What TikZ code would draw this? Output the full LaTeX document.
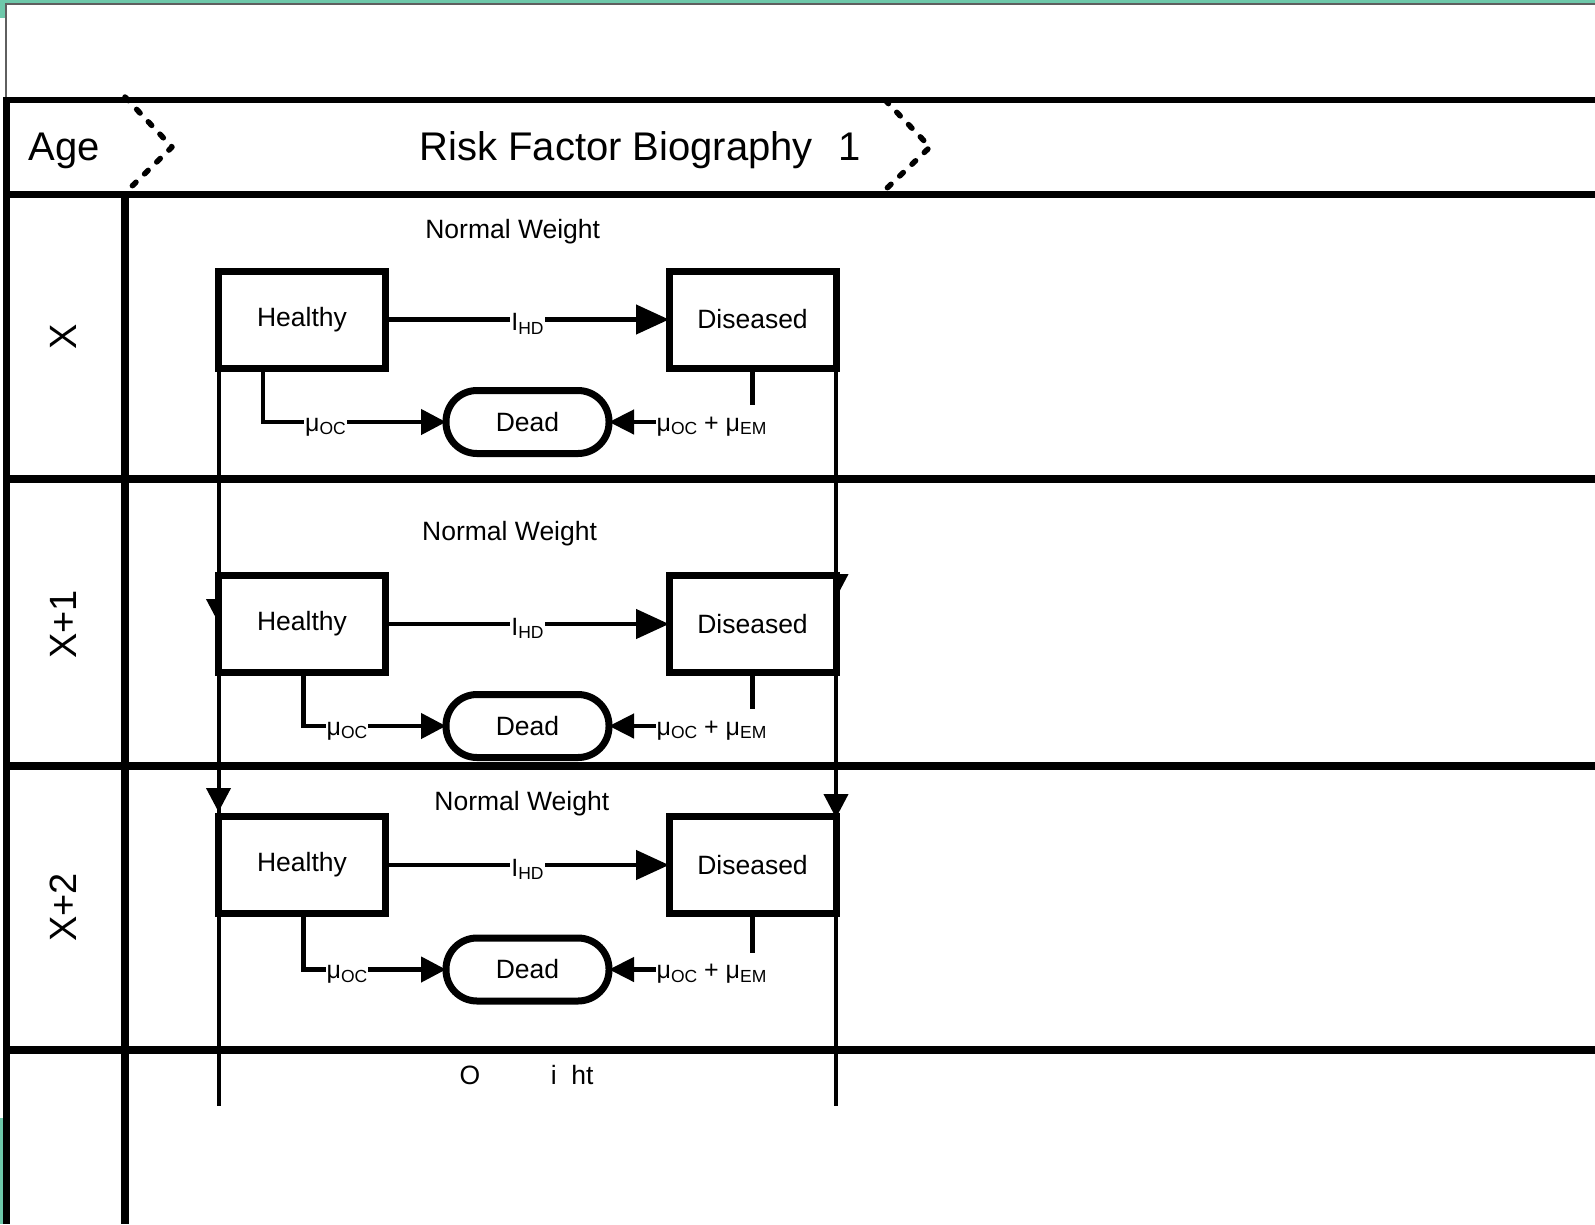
\documentclass[tikz,border=0pt]{standalone}
\usepackage{fontspec}
\setmainfont{Liberation Sans}
\usetikzlibrary{arrows.meta,backgrounds}

\definecolor{edgeteal}{RGB}{110,200,170}
\definecolor{edgegray}{RGB}{95,95,95}

% lowered small letters for the rate names
\newcommand\lowsub[1]{\raisebox{-3.5pt}{\fontsize{17.5}{20}\selectfont #1}}

\tikzset{
  state/.style={draw, line width=7pt, fill=white, minimum width=167pt, minimum height=97pt,
    inner sep=0pt, outer sep=0pt, font=\fontsize{26.5}{30}\selectfont},
  dead/.style={draw, line width=7pt, fill=white, rounded corners=31pt, minimum width=163pt,
    minimum height=63pt, inner sep=0pt, outer sep=0pt, font=\fontsize{26.5}{30}\selectfont},
  flow/.style={line width=4.5pt},
  rate/.style={fill=white, inner xsep=1pt, inner ysep=1pt, font=\fontsize{25}{28}\selectfont},
  ageline/.style={line width=4pt},
  laneline/.style={line width=8pt},
  stage/.style={line width=5.5pt, line cap=round, line join=round, dash pattern=on 5pt off 12pt},
  head/.style={font=\fontsize{40}{44}\selectfont},
  plain/.style={font=\fontsize{26.5}{30}\selectfont}
}

\begin{document}
\begin{tikzpicture}[x=1pt, y=-1pt, >={Triangle[length=24pt,width=24pt]}]
  \useasboundingbox (0,0) rectangle (1595,1224);

  % window edge
  \fill[edgeteal] (0,0) rectangle (1595,3.2);
  \fill[edgeteal] (0,0) rectangle (5,18);
  \fill[edgeteal] (0,1118) rectangle (2.8,1224);
  \draw[edgegray, line width=1.6pt] (5.8,98) -- (5.8,4.2) -- (1595,4.2);

  % one year per row: healthy, diseased, dead
  \foreach \r/\yb/\yd/\nx/\ny/\dx/\mx in {1/319.5/422/512.7/238.5/263/325.5,
                                          2/624/726/509.6/540/303.6/347,
                                          3/865/969.5/521.8/810/303.6/347} {
    \node[state] (H\r) at (302,\yb) {Healthy};
    \node[state] (D\r) at (752.5,\yb) {Diseased};
    \node[dead] (X\r) at (527.5,\yd) {Dead};
    \node[plain, anchor=base] (nw\r) at (\nx,\ny) {Normal Weight};

    \draw[flow, -{Triangle[length=33pt,width=29pt]}] (H\r) -- (D\r);
    \node[rate, anchor=base] (ihd\r) at (527.5,\yb+11) {I\lowsub{HD}};

    \draw[flow, -{Triangle[length=25pt,width=25pt]}] (H\r.south -| \dx,0) |- (X\r.west);
    \node[rate, anchor=base] (moc\r) at (\mx,\yd+9) {μ\lowsub{OC}};

    \draw[flow, -{Triangle[length=25pt,width=24pt]}] (D\r.south) |- (X\r.east);
    \node[rate, anchor=base, text height=26pt, text depth=9pt, inner ysep=0pt]
      (mem\r) at (711.5,\yd+9) {μ\lowsub{OC} + μ\lowsub{EM}};
  }

  % ageing lines run behind the boxes
  \begin{scope}[on background layer]
    \coordinate (endL) at (H1.south west |- 0,1106);
    \coordinate (endR) at (D1.south east |- 0,1106);
    \draw[ageline] (H1.south west) -- (endL);
    \draw[ageline] (D1.south east) -- (endR);
    \draw[ageline, ->] (H1.south west) -- (H1.south west |- 0,623);
    \draw[ageline, ->] (H1.south west) -- (H1.south west |- 0,812);
    \draw[ageline, ->] (D1.south east) -- (D1.south east |- 0,598);
    \draw[ageline, ->] (D1.south east) -- (D1.south east |- 0,818);
  \end{scope}

  \node[plain, anchor=base west] (ow) at (456,1084) {O\phantom{verwe}i\phantom{g}ht};

  % lanes
  \draw[laneline, line width=5.5pt] (3,100) -- (1595,100);
  \draw[laneline, line width=7pt] (6.3,194) -- (1595,194);
  \foreach \y in {479,766,1049.5}
    \draw[laneline] (6.3,\y) -- (1595,\y);
  \draw[laneline, line width=7pt] (6.3,97) -- (6.3,1224);
  \draw[laneline] (124.5,194) -- (124.5,1224);

  % header
  \node[head, anchor=base west] (age) at (25,160.5) {Age};
  \node[head, anchor=base west] (bio) at (416,160.5) {Risk Factor Biography~~\hspace{3pt}1};
  \draw[stage] (125,97) -- (172,147) -- (127,191);
  \draw[stage] (885,100) -- (930,147) -- (885,190);

  % age of each row
  \foreach \t/\y [count=\i] in {X/337, X+1/624.5, X+2/907.5}
    \node[head, font=\fontsize{38}{42}\selectfont, rotate=90] (yr\i) at (63.5,\y) {\t};
\end{tikzpicture}
\end{document}
